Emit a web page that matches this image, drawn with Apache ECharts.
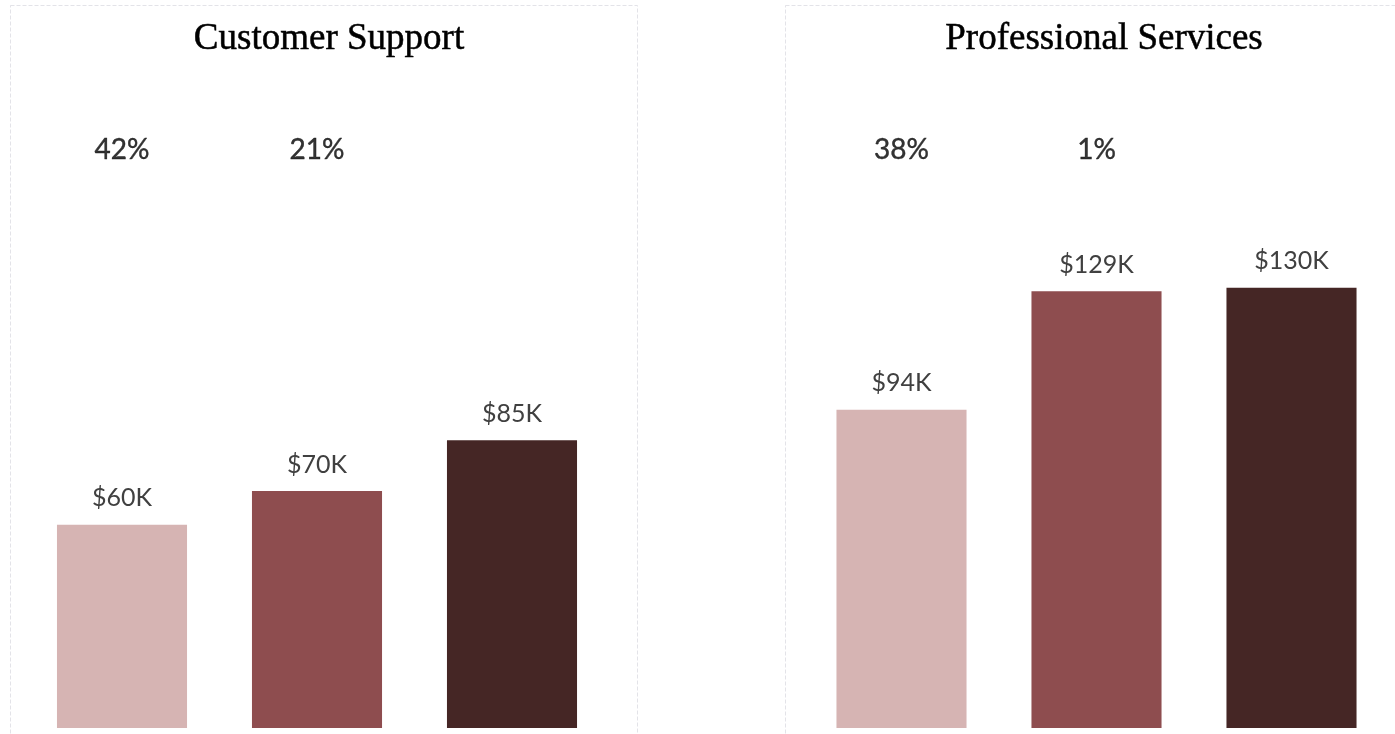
<!DOCTYPE html>
<html>
<head>
<meta charset="utf-8">
<title>Salary by Department</title>
<script src="https://cdn.jsdelivr.net/npm/echarts@6/dist/echarts.min.js"></script>
<style>
  html, body { margin: 0; padding: 0; background: #fff; }
  #chart { width: 1395px; height: 734px; }
</style>
</head>
<body>
<div id="chart"></div>
<script>
// Panel titles
const panels = ['Customer Support', 'Professional Services'];
// Three levels per panel (in thousands of dollars)
const levels = ['Level 1', 'Level 2', 'Level 3'];
const supportValues = [60, 70, 85];
const servicesValues = [94, 129, 130];
// Growth from each level to the top level, shown above the bars
const supportGrowth = [42, 21, null];
const servicesGrowth = [38, 1, null];
const barColors = ['#d6b4b3', '#8e4d4f', '#452625'];

const Y_MAX = 180;
const GROWTH_ROW = 170.7; // value height where the growth labels sit

const chart = echarts.init(document.getElementById('chart'));

function barSeries(idx, values) {
  return {
    type: 'bar',
    xAxisIndex: idx,
    yAxisIndex: idx,
    barWidth: '66.7%',
    data: values.map((v, i) => ({ value: v, itemStyle: { color: barColors[i] } })),
    label: {
      show: true,
      position: 'top',
      distance: 14,
      formatter: p => '$' + p.value + 'K',
      fontFamily: 'Lato',
      fontSize: 25,
      color: '#404040'
    },
    silent: true
  };
}

function growthSeries(idx, growth) {
  return {
    type: 'scatter',
    xAxisIndex: idx,
    yAxisIndex: idx,
    symbolSize: 0,
    data: growth.map((g, i) => g == null ? null : { value: [levels[i], GROWTH_ROW], pct: g }),
    label: {
      show: true,
      position: 'inside',
      formatter: p => p.data.pct + '%',
      fontFamily: 'Lato',
      fontSize: 28,
      color: '#000',
      textBorderColor: '#000',
      textBorderWidth: 0.4
    },
    silent: true
  };
}

const titleStyle = {
  fontFamily: 'Liberation Serif', fontSize: 37, fontWeight: 'normal', color: '#000',
  textBorderColor: '#000', textBorderWidth: 0.5
};

const option = {
  animation: false,
  backgroundColor: '#fff',
  title: [
    { text: panels[0], left: 324, top: 16, textAlign: 'center', textStyle: titleStyle },
    { text: panels[1], left: 1099, top: 16, textAlign: 'center', textStyle: titleStyle }
  ],
  graphic: [
    { type: 'rect', shape: { x: 10.5, y: 5.5, width: 627, height: 760 },
      style: { fill: 'none', stroke: '#e3e3e8', lineWidth: 1, lineDash: [4, 2] }, silent: true, z: -1 },
    { type: 'rect', shape: { x: 785.5, y: 5.5, width: 627, height: 760 },
      style: { fill: 'none', stroke: '#e3e3e8', lineWidth: 1, lineDash: [4, 2] }, silent: true, z: -1 }
  ],
  grid: [
    { left: 24.5, width: 585, top: 728 - Y_MAX * 3.386, bottom: 6 },
    { left: 804, width: 585, top: 728 - Y_MAX * 3.386, bottom: 6 }
  ],
  xAxis: [0, 1].map(i => ({
    type: 'category', gridIndex: i, data: levels,
    axisLine: { show: false }, axisTick: { show: false }, axisLabel: { show: false }
  })),
  yAxis: [0, 1].map(i => ({
    type: 'value', gridIndex: i, min: 0, max: Y_MAX,
    axisLine: { show: false }, axisTick: { show: false }, axisLabel: { show: false },
    splitLine: { show: false }
  })),
  series: [
    barSeries(0, supportValues),
    barSeries(1, servicesValues),
    growthSeries(0, supportGrowth),
    growthSeries(1, servicesGrowth)
  ]
};

chart.setOption(option);
</script>
</body>
</html>
